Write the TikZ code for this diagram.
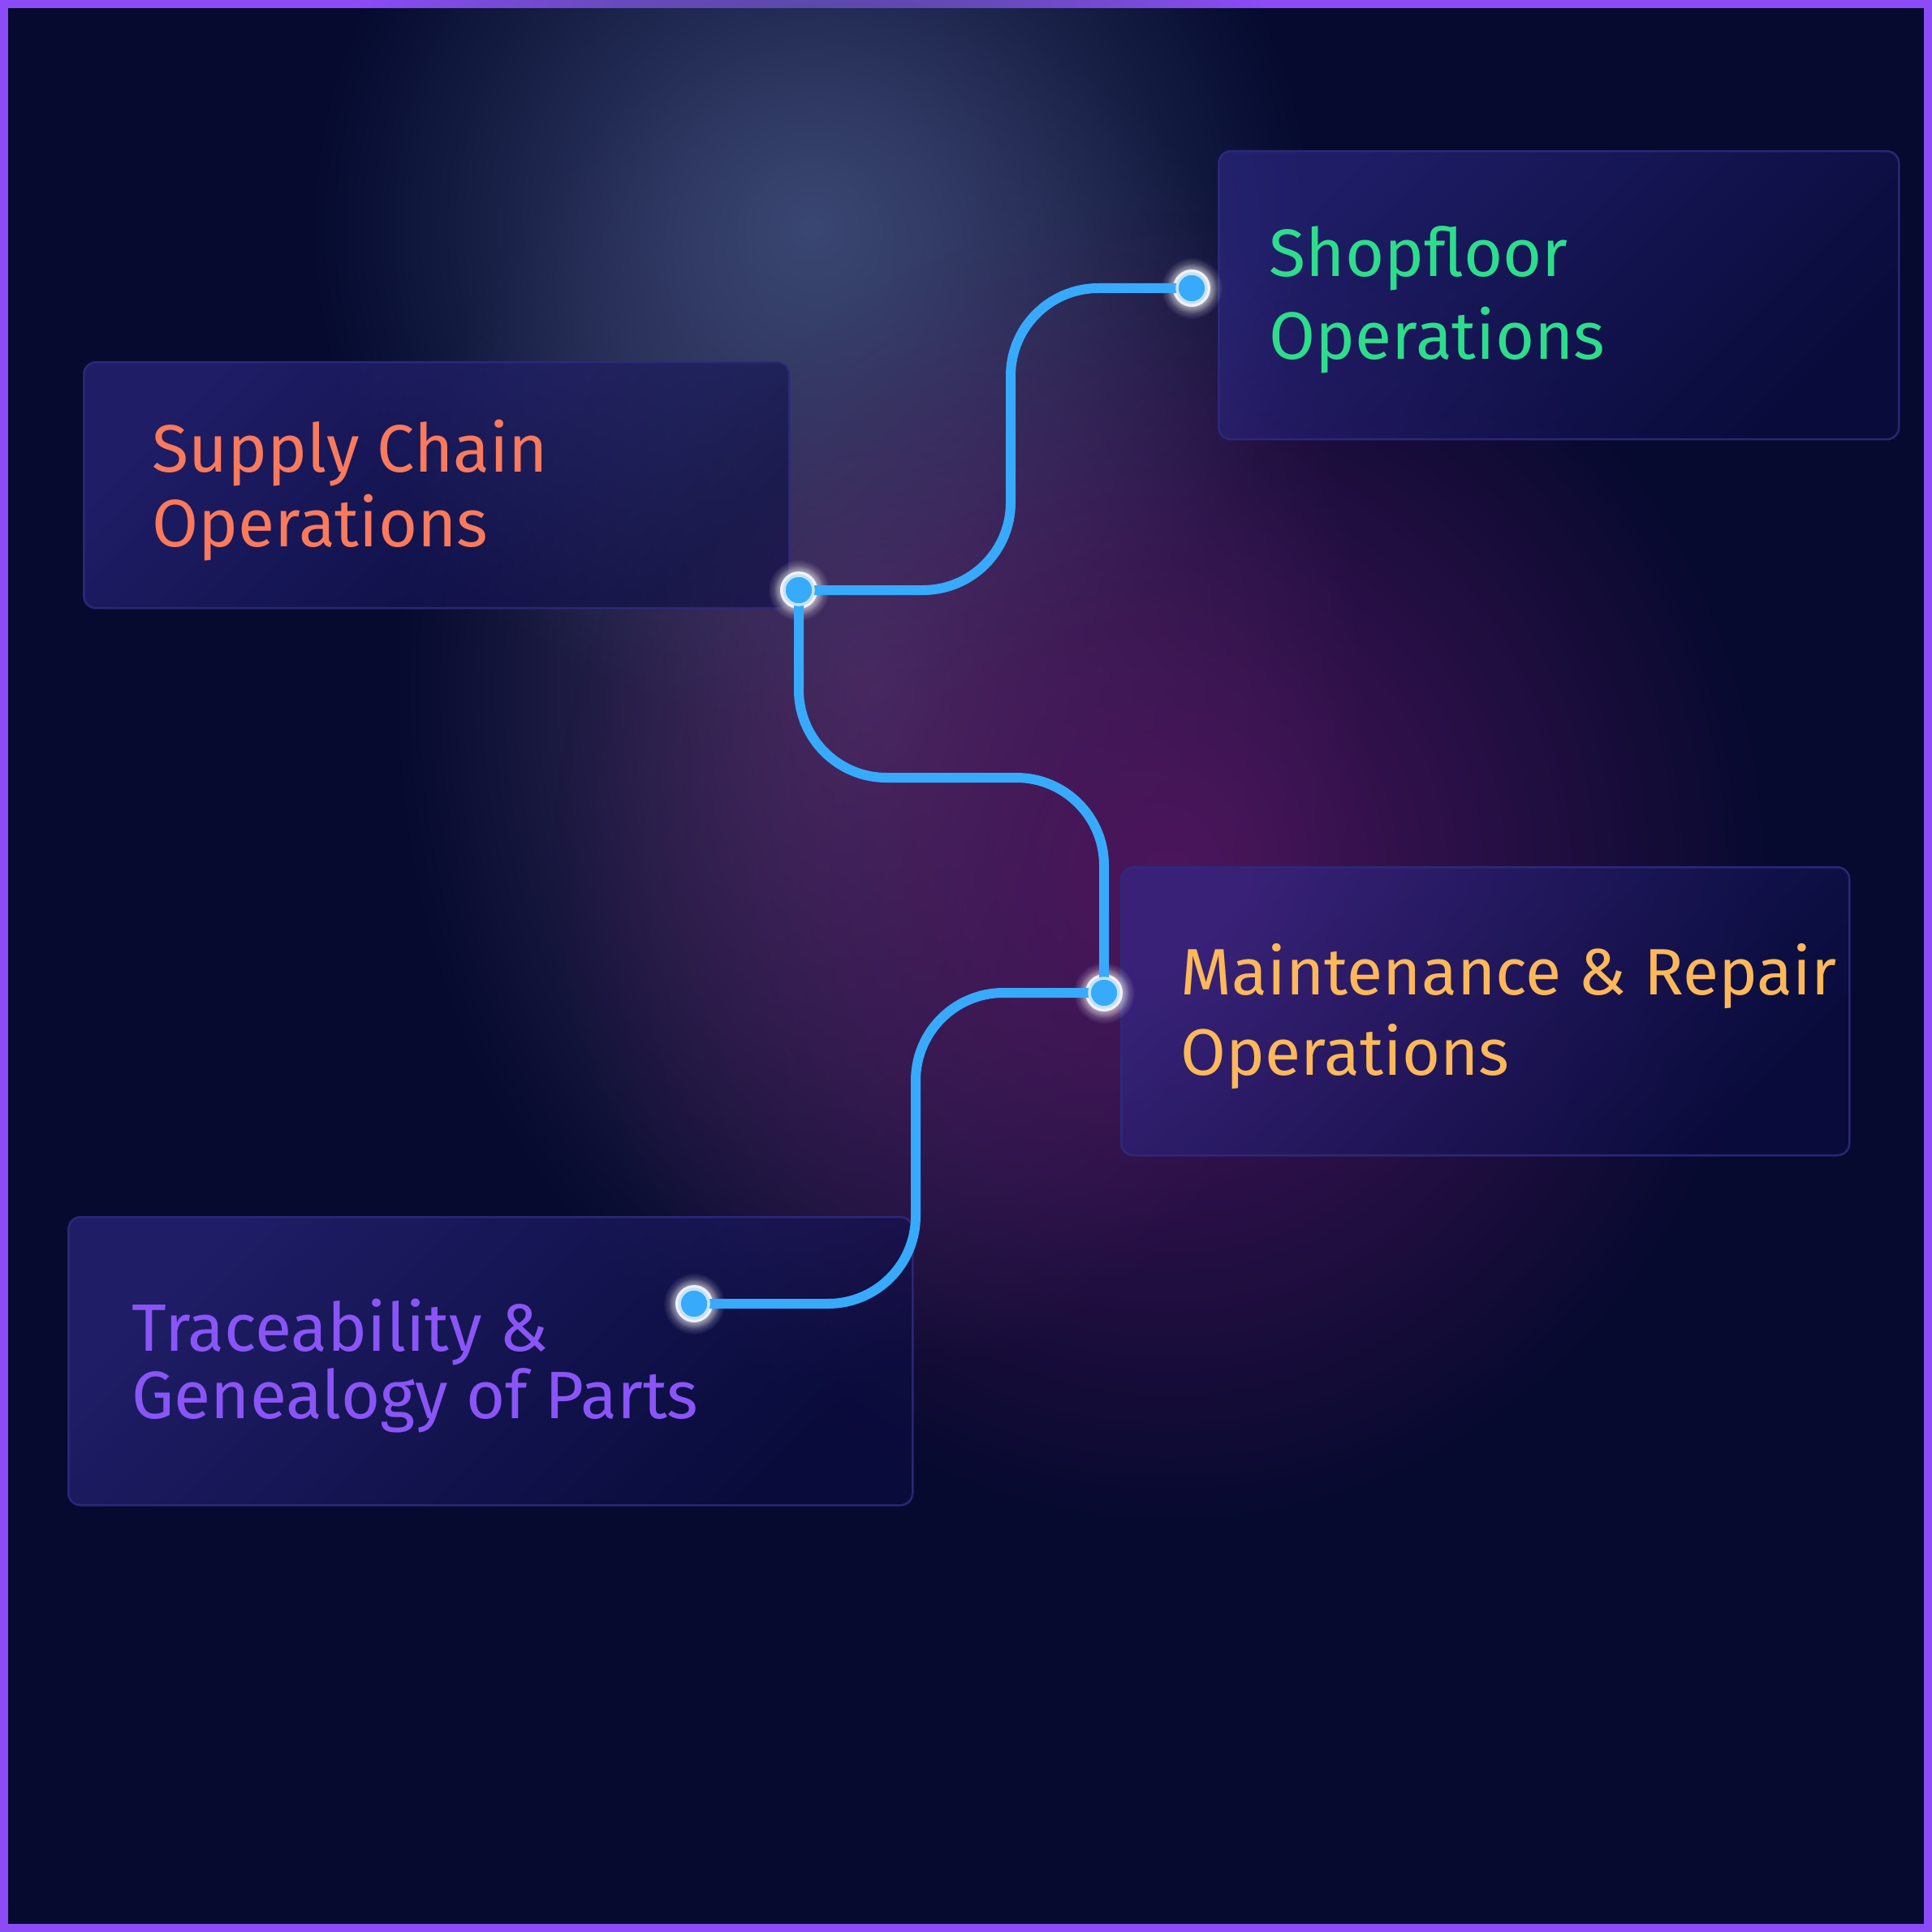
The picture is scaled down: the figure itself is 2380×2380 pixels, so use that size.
\documentclass[tikz,border=0pt]{standalone}
\usepackage{fontspec}
\setmainfont{Fira Sans}
\usetikzlibrary{positioning,fadings}
\definecolor{framepurple}{HTML}{8B4CF7}
\definecolor{bgnavy}{HTML}{050A2E}
\definecolor{glowsteel}{HTML}{3A4772}
\definecolor{glowplum}{HTML}{4C155C}
\definecolor{glowhaze}{HTML}{463863}
\definecolor{cardlight}{HTML}{302A8C}
\definecolor{carddark}{HTML}{0C0D44}
\definecolor{cardedge}{HTML}{2E2A7C}
\definecolor{linkblue}{HTML}{38AAFC}
\definecolor{ringblue}{HTML}{C5E3F3}
\definecolor{supplycoral}{HTML}{F97A5C}
\definecolor{shopgreen}{HTML}{2EDD8C}
\definecolor{maintamber}{HTML}{FDB85A}
\definecolor{tracepurple}{HTML}{8A55F6}
\tikzfading[name=softglow, inner color=transparent!0, outer color=transparent!100]
\tikzset{
  card/.style={draw=cardedge,line width=0.25mm,rounded corners=1.5mm,top color=cardlight,bottom color=carddark,shading angle=45,fill opacity=0.6,draw opacity=0.9,anchor=north west},
  cardtext/.style={font=\fontsize{23.5}{29}\selectfont,align=left,inner sep=0pt,yshift=-0.6mm},
  link/.style={draw=linkblue,line width=1.2mm,rounded corners=10.8mm},
  halo/.style={fill=white,path fading=softglow},
  pin/.style={fill=linkblue,draw=ringblue,line width=0.35mm}
}

\begin{document}
\begin{tikzpicture}[x=0.1mm,y=0.1mm]
  \useasboundingbox (0,0) rectangle (2380,-2380);
  \fill[framepurple] (0,0) rectangle (2380,-2380);
  \fill[bgnavy] (10,-10) rectangle (2370,-2370);
  % background glows
  \fill[glowhaze,path fading=softglow] (1080,-850) ellipse [x radius=600,y radius=850];
  \fill[glowsteel,path fading=softglow] (1000,-280) ellipse [x radius=620,y radius=620];
  \fill[glowplum,path fading=softglow] (1440,-1080) ellipse [x radius=760,y radius=820];

  \node[card,minimum width=86.9mm,minimum height=30.3mm] (supply) at (102,-445) {};
  \node[card,minimum width=83.8mm,minimum height=35.5mm] (shop) at (1500,-185) {};
  \node[card,minimum width=89.7mm,minimum height=35.5mm] (maint) at (1380,-1067) {};
  \node[card,minimum width=104mm,minimum height=35.5mm] (trace) at (83,-1498) {};

  \node[cardtext,text=supplycoral,font=\fontsize{23.5}{26.2}\selectfont,right=8.5mm of supply.west] (supplylabel) {Supply Chain\\Operations};
  \node[cardtext,text=shopgreen,right=6.3mm of shop.west] (shoplabel) {Shopfloor\\Operations};
  \node[cardtext,text=maintamber,font=\fontsize{23}{28.2}\selectfont,right=7.4mm of maint.west] (maintlabel) {Maintenance \& Repair\\Operations};
  \node[cardtext,text=tracepurple,font=\fontsize{23.5}{22.5}\selectfont,right=7.9mm of trace.west] (tracelabel) {Traceability \&\\Genealogy of Parts};

  \coordinate (dsupply) at (984,-727);
  \coordinate (dshop) at (1468,-355);
  \coordinate (dmaint) at (1360,-1223);
  \coordinate (dtrace) at (855,-1606);
  \coordinate (bendA) at (1245,-540);
  \coordinate (bendB) at (1170,-958);
  \coordinate (bendC) at (1128,-1415);

  \foreach \p in {dsupply,dshop,dmaint,dtrace}{
    \fill[halo] (\p) circle (38);
    \fill[halo] (\p) circle (31);
    \fill[white,opacity=0.85] (\p) circle (23);
  }
  \draw[link] (dsupply) -- (dsupply -| bendA) -- (bendA |- dshop) -- (dshop);
  \draw[link] (dsupply) -- (dsupply |- bendB) -- (bendB -| dmaint) -- (dmaint);
  \draw[link] (dmaint) -- (dmaint -| bendC) -- (bendC |- dtrace) -- (dtrace);
  \foreach \p in {dsupply,dshop,dmaint,dtrace}
    \filldraw[pin] (\p) circle (18);
\end{tikzpicture}
\end{document}
